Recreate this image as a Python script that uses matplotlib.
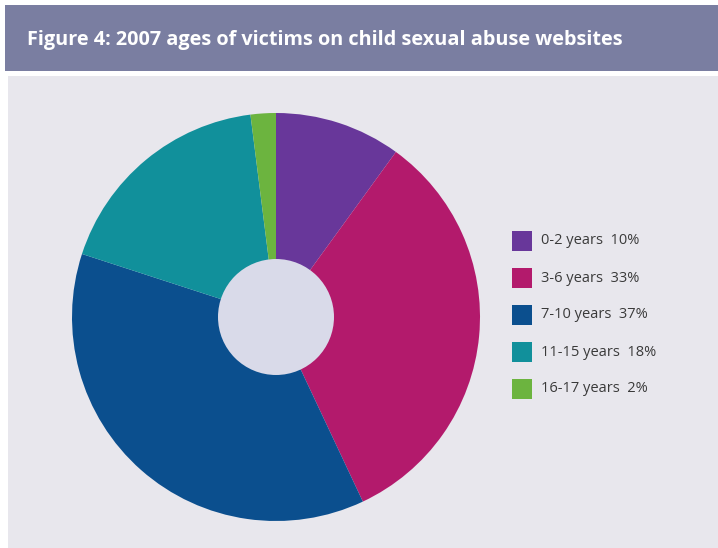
import matplotlib.pyplot as plt
from matplotlib.patches import Rectangle, Circle

# age groups and share of victims (%)
ages = ['0-2 years', '3-6 years', '7-10 years', '11-15 years', '16-17 years']
shares = [10, 33, 37, 18, 2]
colors = ['#68379a', '#b31a6c', '#0b4f8e', '#11909b', '#6cb43f']

W, H = 718, 548
fig = plt.figure(figsize=(W / 100, H / 100), dpi=100)
fig.patch.set_facecolor('white')

def px(x, y):
    # pixel coords (top-left origin) -> figure fraction
    return x / W, 1 - y / H

# header band and grey panel
fig.patches.append(Rectangle(px(5, 71), 713 / W, 66 / H, transform=fig.transFigure,
                             facecolor='#7a7ea1', edgecolor='none', zorder=-2))
fig.patches.append(Rectangle(px(8, 548), 710 / W, 472 / H, transform=fig.transFigure,
                             facecolor='#e8e7ed', edgecolor='none', zorder=-2))
fig.text(*px(27, 40), 'Figure 4: 2007 ages of victims on child sexual abuse websites',
         color='white', fontsize=14.3, fontweight='bold', family='Open Sans',
         va='center', ha='left')

# donut chart
cx, cy, r = 276, 317, 204
ax = fig.add_axes([(cx - r) / W, 1 - (cy + r) / H, 2 * r / W, 2 * r / H])
ax.set_zorder(2)
ax.pie(shares, colors=colors, startangle=90, counterclock=False,
       wedgeprops=dict(linewidth=0))
ax.add_patch(Circle((0, 0), 58 / r, facecolor='#d9dae9', edgecolor='none'))
ax.set_xlim(-1, 1)
ax.set_ylim(-1, 1)
ax.set_aspect('equal')
ax.axis('off')

# legend
for i, (a, s, c) in enumerate(zip(ages, shares, colors)):
    y = 241 + 37 * i
    fig.patches.append(Rectangle(px(512, y + 10), 20 / W, 20 / H, transform=fig.transFigure,
                                 facecolor=c, edgecolor='none', zorder=1))
    fig.text(*px(541, y), f'{a}  {s}%', color='#3a3a3a', fontsize=10.5,
             family='Open Sans', va='center', ha='left')

plt.savefig('out.png', dpi=100)
